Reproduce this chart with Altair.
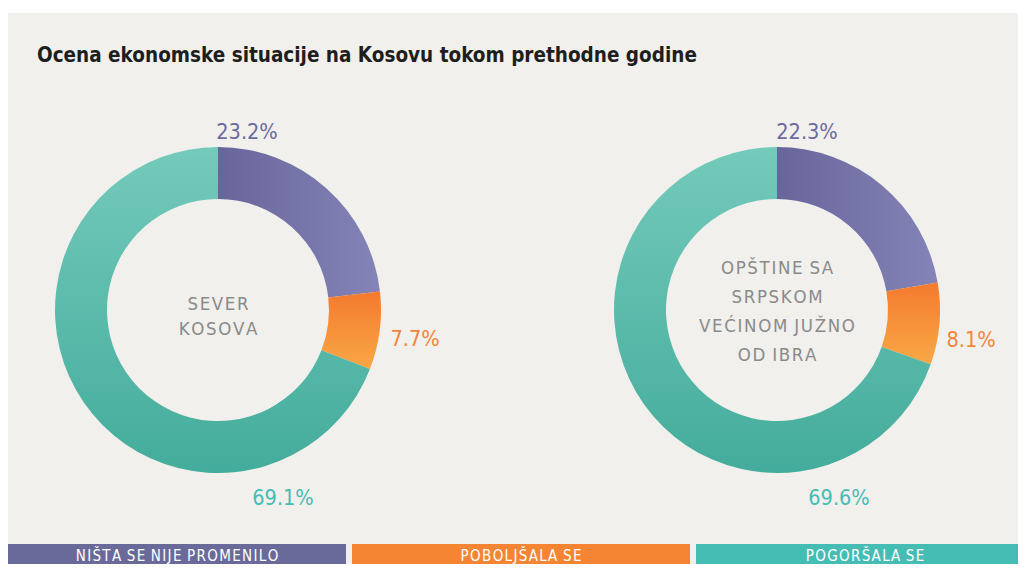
import altair as alt
import pandas as pd

# ---------------- data ----------------
region_keys = ["sever", "jug"]
region_titles = ["SEVER\nKOSOVA", "OPŠTINE SA\nSRPSKOM\nVEĆINOM JUŽNO\nOD IBRA"]
categories = ["NIŠTA SE NIJE PROMENILO", "POBOLJŠALA SE", "POGORŠALA SE"]
sever_values = [23.2, 7.7, 69.1]
jug_values = [22.3, 8.1, 69.6]
legend_colors = ["#6a6a9a", "#f58433", "#45bdb5"]
label_colors = ["#6b6a9e", "#f5843a", "#45bdb5"]
title_text = "Ocena ekonomske situacije na Kosovu tokom prethodne godine"

rows = []
for key, vals in zip(region_keys, [sever_values, jug_values]):
    for k, (cat, v) in enumerate(zip(categories, vals)):
        rows.append({"region": key, "category": cat, "order": k, "value": v})
df = pd.DataFrame(rows)
titles_df = pd.DataFrame({"region": region_keys, "title": region_titles})
legend_df = pd.DataFrame({"category": categories, "order": list(range(3))})

# ---------------- style ----------------
W, H = 1010, 556
NARROW = "DejaVu Sans Condensed, Liberation Sans Narrow, sans-serif"
R_IN, R_OUT = 111, 163
centers = {"sever": (210, 302), "jug": (769, 302)}
# letter-spacing emulation: a hair space after every character
SPACED = "replace(datum.{f}, regexp('([^\\n ])', 'g'), '$1\u200a')"

def lg(stops, x1, y1, x2, y2):
    return alt.LinearGradient(
        gradient="linear",
        stops=[alt.GradientStop(color=c, offset=o) for c, o in stops],
        x1=x1, y1=y1, x2=x2, y2=y2,
    )

fills = [
    lg([("#67659a", 0), ("#8584b9", 1)], 0, 0, 1, 0),
    lg([("#f47a2e", 0), ("#f9a846", 1)], 0, 0, 0, 1),
    lg([("#74cabb", 0), ("#44ac9c", 1)], 0, 0, 0, 1),
]

theta_scale = alt.Scale(domain=[0, 100], range=[0, 6.283185307179586])


def arc_layer(region, k):
    cx, cy = centers[region]
    return (
        alt.Chart(df)
        .transform_filter(alt.datum.region == region)
        .transform_window(cum="sum(value)", sort=[alt.SortField("order")], frame=[None, 0])
        .transform_calculate(start="datum.cum - datum.value")
        .transform_filter(alt.datum.order == k)
        .mark_arc(x=cx, y=cy, innerRadius=R_IN, outerRadius=R_OUT, fill=fills[k])
        .encode(
            theta=alt.Theta("start:Q", scale=theta_scale, stack=None),
            theta2="cum:Q",
        )
    )


label_pos = {
    ("sever", 0): (239, 131), ("sever", 1): (407, 338), ("sever", 2): (275, 497),
    ("jug", 0): (799, 131), ("jug", 1): (963, 339), ("jug", 2): (831, 497),
}


def pct_layer(region, k):
    x, y = label_pos[(region, k)]
    return (
        alt.Chart(df)
        .transform_filter((alt.datum.region == region) & (alt.datum.order == k))
        .transform_calculate(label="format(datum.value, '.1f') + '%'")
        .mark_text(x=x, y=y, font=NARROW, fontSize=21.5, color=label_colors[k],
                   align="center", baseline="alphabetic")
        .encode(text="label:N")
    )


center_cfg = {"sever": (210, 302, 25), "jug": (769, 266, 29)}


def center_layer(region):
    x, y, lh = center_cfg[region]
    return (
        alt.Chart(titles_df)
        .transform_filter(alt.datum.region == region)
        .transform_calculate(spaced=SPACED.format(f="title"))
        .mark_text(x=x, y=y, font=NARROW, fontSize=18.5,
                   color="#8a8a8a", align="center", baseline="alphabetic",
                   lineBreak="\n", lineHeight=lh)
        .encode(text="spaced:N")
    )


background = (
    alt.Chart(pd.DataFrame({"a": [0]}))
    .mark_rect(color="#f1f0ec")
    .encode(x=alt.value(0), x2=alt.value(W), y=alt.value(5), y2=alt.value(H))
)

title = (
    alt.Chart(pd.DataFrame({"a": [0]}))
    .mark_text(x=29, y=54, font=NARROW, fontSize=20.5, fontWeight="bold",
               color="#1e1e1e", align="left", baseline="alphabetic")
    .encode(text=alt.value(title_text))
)

band_scale = alt.Scale(domain=categories, range=[0, 1026],
                       paddingInner=0.0175, paddingOuter=0)

legend_rects = (
    alt.Chart(legend_df)
    .mark_rect()
    .encode(
        x=alt.X("category:N", sort=categories, scale=band_scale, axis=None),
        y=alt.value(536),
        y2=alt.value(H),
        color=alt.Color("category:N", scale=alt.Scale(domain=categories, range=legend_colors),
                        legend=None),
    )
)

legend_text = (
    alt.Chart(legend_df)
    .transform_calculate(spaced=SPACED.format(f="category"))
    .mark_text(font=NARROW, fontSize=15, color="white",
               align="center", baseline="alphabetic")
    .encode(
        x=alt.X("category:N", sort=categories, scale=band_scale,
                axis=None, bandPosition=0.5),
        y=alt.value(553),
        text="spaced:N",
    )
)

layers = [background, title]
for r in region_keys:
    for k in range(3):
        layers.append(arc_layer(r, k))
for r in region_keys:
    for k in range(3):
        layers.append(pct_layer(r, k))
    layers.append(center_layer(r))
layers += [legend_rects, legend_text]

chart = (
    alt.layer(*layers)
    .properties(width=W, height=H, autosize=alt.AutoSizeParams(type="none"), padding=0)
    .configure(background="white")
    .configure_view(stroke=None)
)

chart.save("out.html", embed_options={"renderer": "svg", "actions": False})
